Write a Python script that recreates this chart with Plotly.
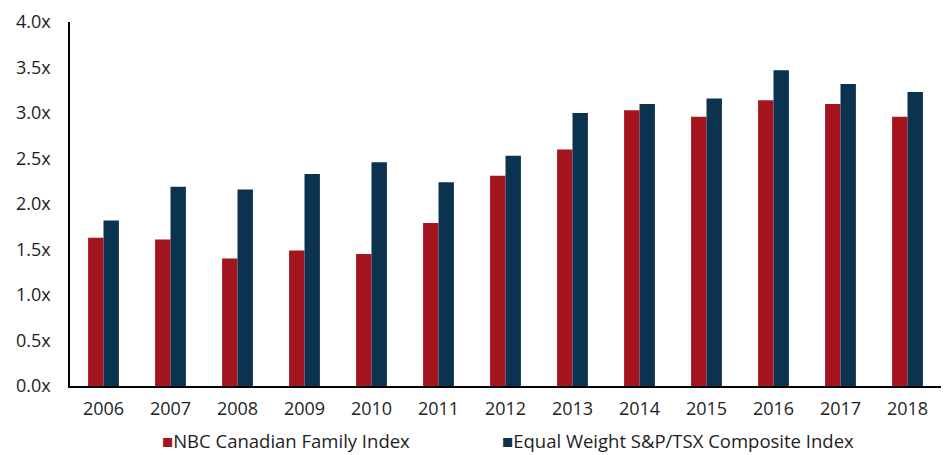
import plotly.graph_objects as go

years = ["2006", "2007", "2008", "2009", "2010", "2011", "2012",
         "2013", "2014", "2015", "2016", "2017", "2018"]
nbc_family = [1.63, 1.61, 1.40, 1.49, 1.45, 1.79, 2.31, 2.60, 3.03, 2.96, 3.14, 3.10, 2.96]
eq_weight_tsx = [1.82, 2.19, 2.16, 2.33, 2.46, 2.24, 2.53, 3.00, 3.10, 3.16, 3.47, 3.32, 3.23]
y_ticks = [0, 0.5, 1.0, 1.5, 2.0, 2.5, 3.0, 3.5, 4.0]
y_tick_text = [f"{v:.1f}x" for v in y_ticks]

series_names = ["NBC Canadian Family Index", "Equal Weight S&P/TSX Composite Index"]
RED = "#A5151E"
NAVY = "#0B3350"
FONT = "Open Sans"
TEXT = "#1E1E1E"

W, H = 944, 455
M_L, M_R, M_T, M_B = 70, 3, 22, 69

fig = go.Figure()
fig.add_trace(go.Bar(x=years, y=nbc_family, name=series_names[0],
                     marker=dict(color=RED, line=dict(width=0))))
fig.add_trace(go.Bar(x=years, y=eq_weight_tsx, name=series_names[1],
                     marker=dict(color=NAVY, line=dict(width=0))))

fig.update_layout(
    width=W, height=H,
    margin=dict(l=M_L, r=M_R, t=M_T, b=M_B),
    plot_bgcolor="white", paper_bgcolor="white",
    barmode="group", bargap=0.54, bargroupgap=0,
    showlegend=False,
    font=dict(family=FONT, size=18, color=TEXT),
)
fig.update_xaxes(
    showline=True, linecolor="black", linewidth=1.5,
    showgrid=False, ticks="", ticklabelstandoff=6,
    tickfont=dict(family=FONT, size=18, color=TEXT),
)
fig.update_yaxes(
    range=[0, 4], tickvals=y_ticks, ticktext=y_tick_text,
    showline=True, linecolor="black", linewidth=1.5,
    showgrid=False, zeroline=False, ticks="", ticklabelstandoff=14,
    tickfont=dict(family=FONT, size=18, color=TEXT),
)

# Legend row: a coloured square followed directly by the series name
plot_w = W - M_L - M_R
plot_h = H - M_T - M_B
legend_y_px = 441
legend_items = [(series_names[0], RED, 160), (series_names[1], NAVY, 500)]
for name, color, x_px in legend_items:
    fig.add_annotation(
        x=(x_px - M_L) / plot_w,
        y=-(legend_y_px - (H - M_B)) / plot_h,
        xref="paper", yref="paper", xanchor="left", yanchor="middle",
        text=f"<span style='color:{color}'>■</span>{name}",
        showarrow=False, font=dict(family=FONT, size=18.5, color=TEXT),
    )

fig.write_html("out.html")
